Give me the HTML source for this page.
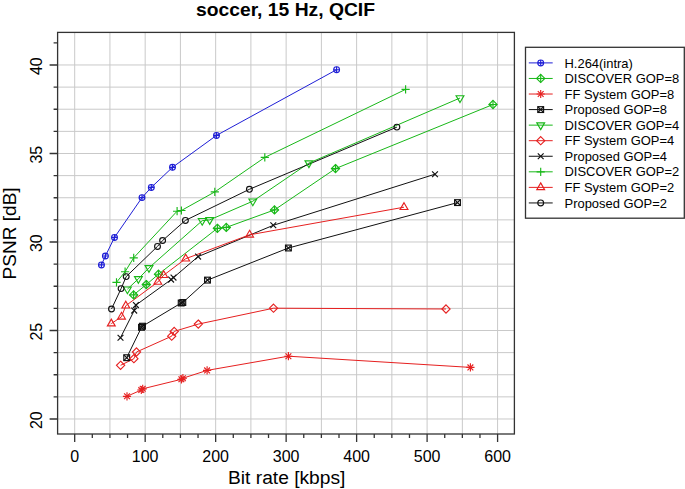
<!DOCTYPE html>
<html><head><meta charset="utf-8"><style>
html,body{margin:0;padding:0;background:#fff;}
body{width:685px;height:489px;overflow:hidden;}
svg{display:block;font-family:"Liberation Sans",sans-serif;fill:#000;}
</style></head><body>
<svg width="685" height="489" viewBox="0 0 685 489">
<rect width="685" height="489" fill="#fff"/>
<path d="M74.69 32.4V434M109.93 32.4V434M145.17 32.4V434M180.41 32.4V434M215.66 32.4V434M250.9 32.4V434M286.14 32.4V434M321.38 32.4V434M356.62 32.4V434M391.86 32.4V434M427.1 32.4V434M462.35 32.4V434M497.59 32.4V434M57.6 418.99H514.4M57.6 396.86H514.4M57.6 374.74H514.4M57.6 352.61H514.4M57.6 330.49H514.4M57.6 308.36H514.4M57.6 286.24H514.4M57.6 264.11H514.4M57.6 241.99H514.4M57.6 219.86H514.4M57.6 197.74H514.4M57.6 175.61H514.4M57.6 153.49H514.4M57.6 131.36H514.4M57.6 109.23H514.4M57.6 87.11H514.4M57.6 64.98H514.4" stroke="#c9c9c9" stroke-width="1" fill="none"/>
<path d="M101.45 264.9 L105.4 256 L114.5 237.4 L142 197.6 L151.3 187.4 L172.5 167.3 L216.5 135.4 L336.6 69.7" stroke="#1f1fd6" stroke-width="1.0" fill="none"/>
<path d="M133.6 294.9 L146.3 284.6 L158.5 274.2 L217.4 228.3 L226.3 227.4 L274.5 209.9 L335.5 168.6 L493 104.5" stroke="#18b818" stroke-width="1.0" fill="none"/>
<path d="M127 396.3 L141.3 390 L142.7 388.8 L181.4 379.3 L182.9 378.2 L207.1 370.4 L288.4 356.2 L470.4 367.4" stroke="#e62020" stroke-width="1.0" fill="none"/>
<path d="M126.7 357.7 L141.5 327.3 L142.5 326.2 L181.2 303 L182.8 302.5 L207.5 280.1 L288.4 248 L457.5 202.6" stroke="#111111" stroke-width="1.0" fill="none"/>
<path d="M127.4 289.2 L138.4 278.8 L149 267.8 L202.2 220.7 L209.7 219.9 L252.8 201.2 L308.9 163.1 L460 98" stroke="#18b818" stroke-width="1.0" fill="none"/>
<path d="M120.6 365.3 L133.9 358.7 L136.5 352 L171.7 336.2 L174.2 331.4 L198.3 324.1 L273.5 308.2 L446 309" stroke="#e62020" stroke-width="1.0" fill="none"/>
<path d="M120.5 337.7 L134.2 310.6 L135.9 305.1 L171.1 279.6 L173.5 277.6 L198.1 256.6 L273.3 225.3 L435 174.2" stroke="#111111" stroke-width="1.0" fill="none"/>
<path d="M116.5 282.3 L125.1 271.7 L133.7 257.8 L177.1 211.2 L181.4 210.5 L214.8 191.9 L264.8 157.4 L405.6 89.4" stroke="#18b818" stroke-width="1.0" fill="none"/>
<path d="M111.3 323.6 L121.5 316.8 L125.8 305.7 L157.8 282 L163.7 275.2 L185.7 258.7 L249.6 234.8 L404 207.2" stroke="#e62020" stroke-width="1.0" fill="none"/>
<path d="M111.5 309 L121.1 288.6 L126.2 276.6 L157.5 246.4 L162.6 240.5 L185.4 220.4 L249.4 189.3 L396.9 127.1" stroke="#111111" stroke-width="1.0" fill="none"/>
<g stroke="#1f1fd6" stroke-width="1.15" fill="none"><circle cx="101.45" cy="264.9" r="2.9"/><path d="M98.55 264.9H104.35M101.45 262V267.8"/><circle cx="105.4" cy="256" r="2.9"/><path d="M102.5 256H108.3M105.4 253.1V258.9"/><circle cx="114.5" cy="237.4" r="2.9"/><path d="M111.6 237.4H117.4M114.5 234.5V240.3"/><circle cx="142" cy="197.6" r="2.9"/><path d="M139.1 197.6H144.9M142 194.7V200.5"/><circle cx="151.3" cy="187.4" r="2.9"/><path d="M148.4 187.4H154.2M151.3 184.5V190.3"/><circle cx="172.5" cy="167.3" r="2.9"/><path d="M169.6 167.3H175.4M172.5 164.4V170.2"/><circle cx="216.5" cy="135.4" r="2.9"/><path d="M213.6 135.4H219.4M216.5 132.5V138.3"/><circle cx="336.6" cy="69.7" r="2.9"/><path d="M333.7 69.7H339.5M336.6 66.8V72.6"/></g>
<g stroke="#18b818" stroke-width="1.15" fill="none"><polygon points="133.6,290.8 137.7,294.9 133.6,299 129.5,294.9"/><path d="M129.5 294.9H137.7M133.6 290.8V299"/><polygon points="146.3,280.5 150.4,284.6 146.3,288.7 142.2,284.6"/><path d="M142.2 284.6H150.4M146.3 280.5V288.7"/><polygon points="158.5,270.1 162.6,274.2 158.5,278.3 154.4,274.2"/><path d="M154.4 274.2H162.6M158.5 270.1V278.3"/><polygon points="217.4,224.2 221.5,228.3 217.4,232.4 213.3,228.3"/><path d="M213.3 228.3H221.5M217.4 224.2V232.4"/><polygon points="226.3,223.3 230.4,227.4 226.3,231.5 222.2,227.4"/><path d="M222.2 227.4H230.4M226.3 223.3V231.5"/><polygon points="274.5,205.8 278.6,209.9 274.5,214 270.4,209.9"/><path d="M270.4 209.9H278.6M274.5 205.8V214"/><polygon points="335.5,164.5 339.6,168.6 335.5,172.7 331.4,168.6"/><path d="M331.4 168.6H339.6M335.5 164.5V172.7"/><polygon points="493,100.4 497.1,104.5 493,108.6 488.9,104.5"/><path d="M488.9 104.5H497.1M493 100.4V108.6"/></g>
<g stroke="#e62020" stroke-width="1.15" fill="none"><path d="M124.1 393.4L129.9 399.2M124.1 399.2L129.9 393.4"/><path d="M122.9 396.3H131.1M127 392.2V400.4"/><path d="M138.4 387.1L144.2 392.9M138.4 392.9L144.2 387.1"/><path d="M137.2 390H145.4M141.3 385.9V394.1"/><path d="M139.8 385.9L145.6 391.7M139.8 391.7L145.6 385.9"/><path d="M138.6 388.8H146.8M142.7 384.7V392.9"/><path d="M178.5 376.4L184.3 382.2M178.5 382.2L184.3 376.4"/><path d="M177.3 379.3H185.5M181.4 375.2V383.4"/><path d="M180 375.3L185.8 381.1M180 381.1L185.8 375.3"/><path d="M178.8 378.2H187M182.9 374.1V382.3"/><path d="M204.2 367.5L210 373.3M204.2 373.3L210 367.5"/><path d="M203 370.4H211.2M207.1 366.3V374.5"/><path d="M285.5 353.3L291.3 359.1M285.5 359.1L291.3 353.3"/><path d="M284.3 356.2H292.5M288.4 352.1V360.3"/><path d="M467.5 364.5L473.3 370.3M467.5 370.3L473.3 364.5"/><path d="M466.3 367.4H474.5M470.4 363.3V371.5"/></g>
<g stroke="#111111" stroke-width="1.15" fill="none"><rect x="123.8" y="354.8" width="5.8" height="5.8"/><path d="M123.8 354.8L129.6 360.6M123.8 360.6L129.6 354.8"/><rect x="138.6" y="324.4" width="5.8" height="5.8"/><path d="M138.6 324.4L144.4 330.2M138.6 330.2L144.4 324.4"/><rect x="139.6" y="323.3" width="5.8" height="5.8"/><path d="M139.6 323.3L145.4 329.1M139.6 329.1L145.4 323.3"/><rect x="178.3" y="300.1" width="5.8" height="5.8"/><path d="M178.3 300.1L184.1 305.9M178.3 305.9L184.1 300.1"/><rect x="179.9" y="299.6" width="5.8" height="5.8"/><path d="M179.9 299.6L185.7 305.4M179.9 305.4L185.7 299.6"/><rect x="204.6" y="277.2" width="5.8" height="5.8"/><path d="M204.6 277.2L210.4 283M204.6 283L210.4 277.2"/><rect x="285.5" y="245.1" width="5.8" height="5.8"/><path d="M285.5 245.1L291.3 250.9M285.5 250.9L291.3 245.1"/><rect x="454.6" y="199.7" width="5.8" height="5.8"/><path d="M454.6 199.7L460.4 205.5M454.6 205.5L460.4 199.7"/></g>
<g stroke="#18b818" stroke-width="1.15" fill="none"><polygon points="127.4,293.71 131.31,286.95 123.49,286.95"/><polygon points="138.4,283.31 142.31,276.55 134.49,276.55"/><polygon points="149,272.31 152.91,265.55 145.09,265.55"/><polygon points="202.2,225.21 206.11,218.45 198.29,218.45"/><polygon points="209.7,224.41 213.61,217.65 205.79,217.65"/><polygon points="252.8,205.71 256.71,198.95 248.89,198.95"/><polygon points="308.9,167.61 312.81,160.85 304.99,160.85"/><polygon points="460,102.51 463.91,95.75 456.09,95.75"/></g>
<g stroke="#e62020" stroke-width="1.15" fill="none"><polygon points="120.6,361.2 124.7,365.3 120.6,369.4 116.5,365.3"/><polygon points="133.9,354.6 138,358.7 133.9,362.8 129.8,358.7"/><polygon points="136.5,347.9 140.6,352 136.5,356.1 132.4,352"/><polygon points="171.7,332.1 175.8,336.2 171.7,340.3 167.6,336.2"/><polygon points="174.2,327.3 178.3,331.4 174.2,335.5 170.1,331.4"/><polygon points="198.3,320 202.4,324.1 198.3,328.2 194.2,324.1"/><polygon points="273.5,304.1 277.6,308.2 273.5,312.3 269.4,308.2"/><polygon points="446,304.9 450.1,309 446,313.1 441.9,309"/></g>
<g stroke="#111111" stroke-width="1.15" fill="none"><path d="M117.6 334.8L123.4 340.6M117.6 340.6L123.4 334.8"/><path d="M131.3 307.7L137.1 313.5M131.3 313.5L137.1 307.7"/><path d="M133 302.2L138.8 308M133 308L138.8 302.2"/><path d="M168.2 276.7L174 282.5M168.2 282.5L174 276.7"/><path d="M170.6 274.7L176.4 280.5M170.6 280.5L176.4 274.7"/><path d="M195.2 253.7L201 259.5M195.2 259.5L201 253.7"/><path d="M270.4 222.4L276.2 228.2M270.4 228.2L276.2 222.4"/><path d="M432.1 171.3L437.9 177.1M432.1 177.1L437.9 171.3"/></g>
<g stroke="#18b818" stroke-width="1.15" fill="none"><path d="M112.4 282.3H120.6M116.5 278.2V286.4"/><path d="M121 271.7H129.2M125.1 267.6V275.8"/><path d="M129.6 257.8H137.8M133.7 253.7V261.9"/><path d="M173 211.2H181.2M177.1 207.1V215.3"/><path d="M177.3 210.5H185.5M181.4 206.4V214.6"/><path d="M210.7 191.9H218.9M214.8 187.8V196"/><path d="M260.7 157.4H268.9M264.8 153.3V161.5"/><path d="M401.5 89.4H409.7M405.6 85.3V93.5"/></g>
<g stroke="#e62020" stroke-width="1.15" fill="none"><polygon points="111.3,319.09 115.21,325.85 107.39,325.85"/><polygon points="121.5,312.29 125.41,319.05 117.59,319.05"/><polygon points="125.8,301.19 129.71,307.95 121.89,307.95"/><polygon points="157.8,277.49 161.71,284.25 153.89,284.25"/><polygon points="163.7,270.69 167.61,277.45 159.79,277.45"/><polygon points="185.7,254.19 189.61,260.95 181.79,260.95"/><polygon points="249.6,230.29 253.51,237.05 245.69,237.05"/><polygon points="404,202.69 407.91,209.45 400.09,209.45"/></g>
<g stroke="#111111" stroke-width="1.15" fill="none"><circle cx="111.5" cy="309" r="2.9"/><circle cx="121.1" cy="288.6" r="2.9"/><circle cx="126.2" cy="276.6" r="2.9"/><circle cx="157.5" cy="246.4" r="2.9"/><circle cx="162.6" cy="240.5" r="2.9"/><circle cx="185.4" cy="220.4" r="2.9"/><circle cx="249.4" cy="189.3" r="2.9"/><circle cx="396.9" cy="127.1" r="2.9"/></g>
<rect x="57.6" y="32.4" width="456.8" height="401.6" stroke="#333333" stroke-width="1.3" fill="none"/>
<path d="M74.69 434V442M92.31 434V438M109.93 434V438M127.55 434V438M145.17 434V442M162.79 434V438M180.41 434V438M198.04 434V438M215.66 434V442M233.28 434V438M250.9 434V438M268.52 434V438M286.14 434V442M303.76 434V438M321.38 434V438M339 434V438M356.62 434V442M374.24 434V438M391.86 434V438M409.48 434V438M427.1 434V442M444.73 434V438M462.35 434V438M479.97 434V438M497.59 434V442M57.6 418.99H49.6M57.6 396.86H53.6M57.6 374.74H53.6M57.6 352.61H53.6M57.6 330.49H49.6M57.6 308.36H53.6M57.6 286.24H53.6M57.6 264.11H53.6M57.6 241.99H49.6M57.6 219.86H53.6M57.6 197.74H53.6M57.6 175.61H53.6M57.6 153.49H49.6M57.6 131.36H53.6M57.6 109.23H53.6M57.6 87.11H53.6M57.6 64.98H49.6M57.6 42.86H53.6" stroke="#333333" stroke-width="1.3" fill="none"/>
<text x="74.69" y="461.7" font-size="16" text-anchor="middle">0</text>
<text x="145.17" y="461.7" font-size="16" text-anchor="middle">100</text>
<text x="215.66" y="461.7" font-size="16" text-anchor="middle">200</text>
<text x="286.14" y="461.7" font-size="16" text-anchor="middle">300</text>
<text x="356.62" y="461.7" font-size="16" text-anchor="middle">400</text>
<text x="427.1" y="461.7" font-size="16" text-anchor="middle">500</text>
<text x="497.59" y="461.7" font-size="16" text-anchor="middle">600</text>
<text transform="translate(42.2 420.19) rotate(-90)" font-size="16" text-anchor="middle">20</text>
<text transform="translate(42.2 331.69) rotate(-90)" font-size="16" text-anchor="middle">25</text>
<text transform="translate(42.2 243.19) rotate(-90)" font-size="16" text-anchor="middle">30</text>
<text transform="translate(42.2 154.69) rotate(-90)" font-size="16" text-anchor="middle">35</text>
<text transform="translate(42.2 66.18) rotate(-90)" font-size="16" text-anchor="middle">40</text>
<text x="286.7" y="484.3" font-size="19.2" text-anchor="middle">Bit rate [kbps]</text>
<text transform="translate(15.9 233.4) rotate(-90) scale(1 0.95)" font-size="19.05" text-anchor="middle">PSNR [dB]</text>
<text transform="translate(285.5 16.1) scale(1 0.94)" font-size="19.3" font-weight="bold" text-anchor="middle">soccer, 15 Hz, QCIF</text>
<rect x="525.5" y="47.3" width="158.8" height="170.9" stroke="#333333" stroke-width="1.3" fill="#fff"/>
<path d="M528.8 62.9H552.7" stroke="#1f1fd6" stroke-width="1.0"/>
<g stroke="#1f1fd6" stroke-width="1.15" fill="none"><circle cx="540.7" cy="62.9" r="2.9"/><path d="M537.8 62.9H543.6M540.7 60V65.8"/></g>
<text x="564.5" y="67.5" font-size="12.95">H.264(intra)</text>
<path d="M528.8 78.46H552.7" stroke="#18b818" stroke-width="1.0"/>
<g stroke="#18b818" stroke-width="1.15" fill="none"><polygon points="540.7,74.36 544.8,78.46 540.7,82.56 536.6,78.46"/><path d="M536.6 78.46H544.8M540.7 74.36V82.56"/></g>
<text x="564.5" y="83.06" font-size="12.95">DISCOVER GOP=8</text>
<path d="M528.8 94.02H552.7" stroke="#e62020" stroke-width="1.0"/>
<g stroke="#e62020" stroke-width="1.15" fill="none"><path d="M537.8 91.12L543.6 96.92M537.8 96.92L543.6 91.12"/><path d="M536.6 94.02H544.8M540.7 89.92V98.12"/></g>
<text x="564.5" y="98.62" font-size="12.95">FF System GOP=8</text>
<path d="M528.8 109.58H552.7" stroke="#111111" stroke-width="1.0"/>
<g stroke="#111111" stroke-width="1.15" fill="none"><rect x="537.8" y="106.68" width="5.8" height="5.8"/><path d="M537.8 106.68L543.6 112.48M537.8 112.48L543.6 106.68"/></g>
<text x="564.5" y="114.18" font-size="12.95">Proposed GOP=8</text>
<path d="M528.8 125.14H552.7" stroke="#18b818" stroke-width="1.0"/>
<g stroke="#18b818" stroke-width="1.15" fill="none"><polygon points="540.7,129.65 544.61,122.89 536.79,122.89"/></g>
<text x="564.5" y="129.74" font-size="12.95">DISCOVER GOP=4</text>
<path d="M528.8 140.7H552.7" stroke="#e62020" stroke-width="1.0"/>
<g stroke="#e62020" stroke-width="1.15" fill="none"><polygon points="540.7,136.6 544.8,140.7 540.7,144.8 536.6,140.7"/></g>
<text x="564.5" y="145.3" font-size="12.95">FF System GOP=4</text>
<path d="M528.8 156.26H552.7" stroke="#111111" stroke-width="1.0"/>
<g stroke="#111111" stroke-width="1.15" fill="none"><path d="M537.8 153.36L543.6 159.16M537.8 159.16L543.6 153.36"/></g>
<text x="564.5" y="160.86" font-size="12.95">Proposed GOP=4</text>
<path d="M528.8 171.82H552.7" stroke="#18b818" stroke-width="1.0"/>
<g stroke="#18b818" stroke-width="1.15" fill="none"><path d="M536.6 171.82H544.8M540.7 167.72V175.92"/></g>
<text x="564.5" y="176.42" font-size="12.95">DISCOVER GOP=2</text>
<path d="M528.8 187.38H552.7" stroke="#e62020" stroke-width="1.0"/>
<g stroke="#e62020" stroke-width="1.15" fill="none"><polygon points="540.7,182.87 544.61,189.63 536.79,189.63"/></g>
<text x="564.5" y="191.98" font-size="12.95">FF System GOP=2</text>
<path d="M528.8 202.94H552.7" stroke="#111111" stroke-width="1.0"/>
<g stroke="#111111" stroke-width="1.15" fill="none"><circle cx="540.7" cy="202.94" r="2.9"/></g>
<text x="564.5" y="207.54" font-size="12.95">Proposed GOP=2</text>
</svg>
</body></html>
